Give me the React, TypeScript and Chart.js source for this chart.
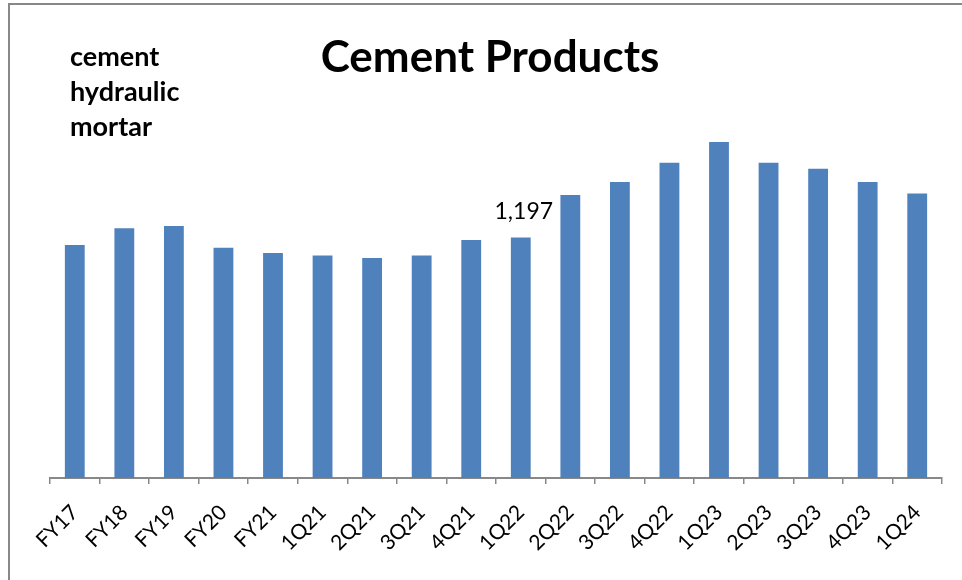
import React, { useEffect, useRef } from 'react';
import { Chart, registerables } from 'chart.js';

Chart.register(...registerables);

const categories = ['FY17', 'FY18', 'FY19', 'FY20', 'FY21', '1Q21', '2Q21', '3Q21', '4Q21', '1Q22', '2Q22', '3Q22', '4Q22', '1Q23', '2Q23', '3Q23', '4Q23', '1Q24'];
const values = [1159, 1242, 1254, 1146, 1119, 1107, 1094, 1107, 1184, 1197, 1408, 1473, 1568, 1672, 1568, 1538, 1473, 1415];
const labeledIndices = [9];
const titleText = 'Cement Products';
const noteLines = ['cement', 'hydraulic', 'mortar'];

const FONT = 'Lato, "Open Sans", sans-serif';
const BAR_COLOR = '#4F81BD';
const FRAME_COLOR = '#888888';

const decorPlugin = {
  id: 'decor',
  beforeDraw(chart: any) {
    const { ctx, width, height } = chart;
    ctx.save();
    ctx.fillStyle = '#ffffff';
    ctx.fillRect(0, 0, width, height);
    ctx.restore();
  },
  afterDatasetsDraw(chart: any) {
    const { ctx } = chart;
    const meta = chart.getDatasetMeta(0);
    ctx.save();
    ctx.font = `23px ${FONT}`;
    ctx.fillStyle = '#000000';
    ctx.textAlign = 'center';
    ctx.textBaseline = 'alphabetic';
    labeledIndices.forEach((i) => {
      const el = meta.data[i];
      if (!el) return;
      const txt = values[i].toLocaleString('en-US');
      ctx.fillText(txt, el.x + 3, el.y - 18);
    });
    ctx.restore();
  },
  afterDraw(chart: any) {
    const { ctx, width, height } = chart;
    ctx.save();
    // frame
    ctx.strokeStyle = FRAME_COLOR;
    ctx.lineWidth = 2;
    ctx.beginPath();
    ctx.moveTo(width, 4);
    ctx.lineTo(9, 4);
    ctx.lineTo(9, height);
    ctx.stroke();
    // title
    ctx.fillStyle = '#000000';
    ctx.font = `bold 44px ${FONT}`;
    ctx.textAlign = 'center';
    ctx.textBaseline = 'alphabetic';
    ctx.fillText(titleText, 490, 72);
    // notes
    ctx.font = `bold 27px ${FONT}`;
    ctx.textAlign = 'left';
    noteLines.forEach((line, i) => {
      ctx.fillText(line, 70, 66 + i * 35);
    });
    ctx.restore();
  },
};

export default function App() {
  const canvasRef = useRef<HTMLCanvasElement | null>(null);

  useEffect(() => {
    document.body.style.margin = '0';
    const canvas = canvasRef.current;
    if (!canvas) return;
    const chart = new Chart(canvas, {
      type: 'bar',
      data: {
        labels: categories,
        datasets: [
          {
            data: values,
            backgroundColor: BAR_COLOR,
            borderWidth: 0,
            barPercentage: 0.4,
            categoryPercentage: 1.0,
          },
        ],
      },
      options: {
        animation: false,
        responsive: false,
        devicePixelRatio: 1,
        layout: { padding: { left: 50, right: 20, top: 76, bottom: 0 } },
        plugins: {
          legend: { display: false },
          tooltip: { enabled: false },
          title: { display: false },
        },
        scales: {
          x: {
            grid: {
              display: true,
              drawOnChartArea: false,
              drawTicks: true,
              tickLength: 6,
              color: FRAME_COLOR,
              lineWidth: 1.5,
              offset: true,
            },
            border: { display: true, color: FRAME_COLOR, width: 2 },
            ticks: {
              autoSkip: false,
              maxRotation: 45,
              minRotation: 45,
              padding: 16,
              color: '#000000',
              font: { family: FONT, size: 21 },
            },
            afterFit(scale: any) {
              scale.height = 102;
            },
          },
          y: {
            display: false,
            min: 0,
            max: 2000,
          },
        },
      },
      plugins: [decorPlugin],
    });
    return () => chart.destroy();
  }, []);

  return (
    <div style={{ width: 962, height: 580 }}>
      <canvas ref={canvasRef} width={962} height={580} style={{ display: 'block' }} />
    </div>
  );
}
